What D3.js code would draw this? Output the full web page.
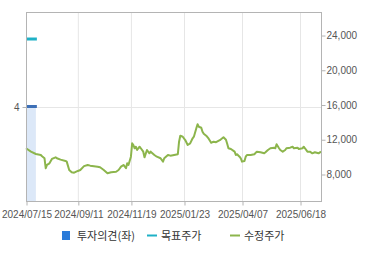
<!DOCTYPE html>
<html>
<head>
<meta charset="utf-8">
<script src="https://cdn.jsdelivr.net/npm/d3@7"></script>
<style>
    body { margin: 0; background: #fff; }
    text { font-family: "Liberation Sans", Arial, sans-serif; }
    .legend text { font-family: "Noto Sans CJK KR", sans-serif; }
</style>
</head>
<body>
<div id="chart"></div>
<script>
//set chart height and width
let height_svg = 255;
let width_svg = 370;

let margin = { top: 12, right: 49, left: 26, bottom: 54 };
let width = width_svg - margin.left - margin.right;
let height = height_svg - margin.top - margin.bottom;

//==========================================================
// data (x = trading day index since 2024/07/15)
let tickDays = [0, 42, 85, 128, 175, 222];
let tickLabels = ["2024/07/15", "2024/09/11", "2024/11/19", "2025/01/23", "2025/04/07", "2025/06/18"];
let lastDay = 239;

let priceDays = [0, 4, 8, 12, 13, 15, 16, 17, 19, 21, 24, 25, 28, 32, 33, 35, 37, 39, 42, 44,
    47, 50, 52, 58, 60, 63, 66, 69, 73, 75, 77, 79, 81, 82, 83, 85, 86, 87, 88, 89,
    90, 92, 93, 95, 96, 98, 100, 101, 104, 106, 109, 111, 112, 115, 117, 120, 123, 124, 125, 127,
    129, 131, 133, 135, 136, 138, 139, 140, 142, 143, 144, 146, 148, 150, 152, 154, 157, 160, 162, 163,
    164, 166, 169, 170, 171, 173, 174, 175, 177, 178, 179, 182, 185, 187, 190, 193, 194, 196, 198, 201,
    202, 203, 205, 206, 208, 210, 211, 214, 216, 217, 220, 221, 224, 225, 226, 228, 230, 232, 234, 237, 239];
let prices = [10960, 10570, 10300, 10190, 10040, 9810, 8660, 9040, 9230, 9730, 9920, 9810, 9650, 9500, 9420, 8460, 8200, 8150, 8350, 8460,
    8900, 9040, 8960, 8840, 8770, 8460, 8080, 8200, 8260, 8460, 8840, 9040, 8660, 9230, 9040, 9990, 11530, 11340, 10960, 11140,
    10760, 11140, 10960, 10570, 9920, 10760, 10380, 10570, 10190, 9990, 9810, 9420, 9810, 10190, 10110, 10190, 10270, 11720, 12410, 12290,
    11910, 11340, 11530, 12110, 12290, 13260, 13720, 13440, 13330, 12870, 12640, 12410, 12060, 11600, 11720, 11660, 11890, 12230, 11950, 11490,
    10970, 10880, 10570, 10190, 10270, 9990, 9810, 9420, 9500, 9990, 10190, 10190, 10270, 10570, 10500, 10380, 10500, 10760, 10960, 11030,
    10960, 11420, 10960, 10760, 10570, 10760, 10960, 11030, 11140, 10960, 11030, 10880, 10960, 11140, 10960, 10570, 10570, 10380, 10500, 10380, 10570];

// investment opinion (left axis) and target price (right axis)
let opinionDays = [0, 8];
let opinionValue = 4;
let targetPrice = 23540;

let priceTicks = [8000, 12000, 16000, 20000, 24000];
let legendNames = ["투자의견(좌)", "목표주가", "수정주가"];

//==========================================================
let svg = d3.select("#chart")
    .append("svg")
    .attr("width", width_svg)
    .attr("height", height_svg);

let chart = svg.append("g")
    .attr("transform", `translate(${margin.left}, ${margin.top})`);

let x_scale = d3.scaleLinear().domain([0, lastDay]).range([0, width]);
let y_price = d3.scaleLinear().domain([4890, 26650]).range([height, 0]);
let y_opinion = d3.scaleLinear().domain([0, 8]).range([height, 0]);

//grid lines
chart.selectAll(".vgrid")
    .data(tickDays.slice(1))
    .enter()
    .append("line")
    .attr("x1", d => x_scale(d) + 0.5)
    .attr("x2", d => x_scale(d) + 0.5)
    .attr("y1", 0)
    .attr("y2", height)
    .attr("stroke", "#e6e6e6");

chart.append("line")
    .attr("x1", 0)
    .attr("x2", width)
    .attr("y1", Math.round(y_opinion(opinionValue)) + 0.5)
    .attr("y2", Math.round(y_opinion(opinionValue)) + 0.5)
    .attr("stroke", "#e6e6e6");

//opinion bar
chart.append("rect")
    .attr("x", x_scale(opinionDays[0]))
    .attr("y", y_opinion(opinionValue))
    .attr("width", x_scale(opinionDays[1]) - x_scale(opinionDays[0]))
    .attr("height", height - y_opinion(opinionValue))
    .attr("fill", "#dce8f8");

chart.append("line")
    .attr("x1", x_scale(opinionDays[0]))
    .attr("x2", x_scale(opinionDays[1]) + 1)
    .attr("y1", y_opinion(opinionValue))
    .attr("y2", y_opinion(opinionValue))
    .attr("stroke", "#3d6fb6")
    .attr("stroke-width", 3);

//target price
chart.append("line")
    .attr("x1", x_scale(opinionDays[0]))
    .attr("x2", x_scale(opinionDays[1]) + 1)
    .attr("y1", y_price(targetPrice))
    .attr("y2", y_price(targetPrice))
    .attr("stroke", "#1fb1c6")
    .attr("stroke-width", 3);

//price line
let price_line = d3.line()
    .x((d, i) => x_scale(priceDays[i]))
    .y(d => y_price(d));

chart.append("path")
    .datum(prices)
    .attr("d", price_line)
    .attr("fill", "none")
    .attr("stroke", "#8cb54c")
    .attr("stroke-width", 2)
    .attr("stroke-linejoin", "round");

//frame
chart.append("rect")
    .attr("x", 0.5)
    .attr("y", 0.5)
    .attr("width", width)
    .attr("height", height)
    .attr("fill", "none")
    .attr("stroke", "#b4b4b4");

//==========================================================
//axes
let bottom_axis = d3.axisBottom(x_scale)
    .tickValues(tickDays)
    .tickFormat((d, i) => tickLabels[i])
    .tickSize(4)
    .tickSizeOuter(0);

let xAxis = chart.append("g")
    .attr("transform", `translate(0.5, ${height + 0.5})`)
    .call(bottom_axis);

let right_axis = d3.axisRight(y_price)
    .tickValues(priceTicks)
    .tickFormat(d3.format(","))
    .tickSize(4)
    .tickSizeOuter(0);

let yAxis = chart.append("g")
    .attr("transform", `translate(${width + 0.5}, 0.5)`)
    .call(right_axis);

let left_axis = d3.axisLeft(y_opinion)
    .tickValues([opinionValue])
    .tickSize(4)
    .tickSizeOuter(0);

let y2Axis = chart.append("g")
    .attr("transform", `translate(0.5, 0.5)`)
    .call(left_axis);

[xAxis, yAxis, y2Axis].forEach(a => {
    a.select(".domain").remove();
    a.selectAll(".tick line").attr("stroke", "#b4b4b4");
    a.selectAll(".tick text")
        .attr("fill", "#555")
        .style("font-size", "10px");
});
xAxis.selectAll(".tick text").attr("dy", "0.9em");
yAxis.selectAll(".tick text").attr("x", 5);

//==========================================================
//legend
let legend = svg.append("g").attr("class", "legend");

legend.append("rect")
    .attr("x", 62).attr("y", 231)
    .attr("width", 8).attr("height", 9)
    .attr("fill", "#2b7bd9");

legend.append("line")
    .attr("x1", 147).attr("x2", 157)
    .attr("y1", 235.5).attr("y2", 235.5)
    .attr("stroke", "#1fb1c6").attr("stroke-width", 2);

legend.append("line")
    .attr("x1", 230).attr("x2", 240)
    .attr("y1", 235.5).attr("y2", 235.5)
    .attr("stroke", "#8cb54c").attr("stroke-width", 2);

legend.selectAll("text")
    .data(legendNames)
    .enter()
    .append("text")
    .attr("x", (d, i) => [77, 161, 244][i])
    .attr("y", 239.5)
    .attr("fill", "#333")
    .style("font-size", "11px")
    .text(d => d);
</script>
</body>
</html>
